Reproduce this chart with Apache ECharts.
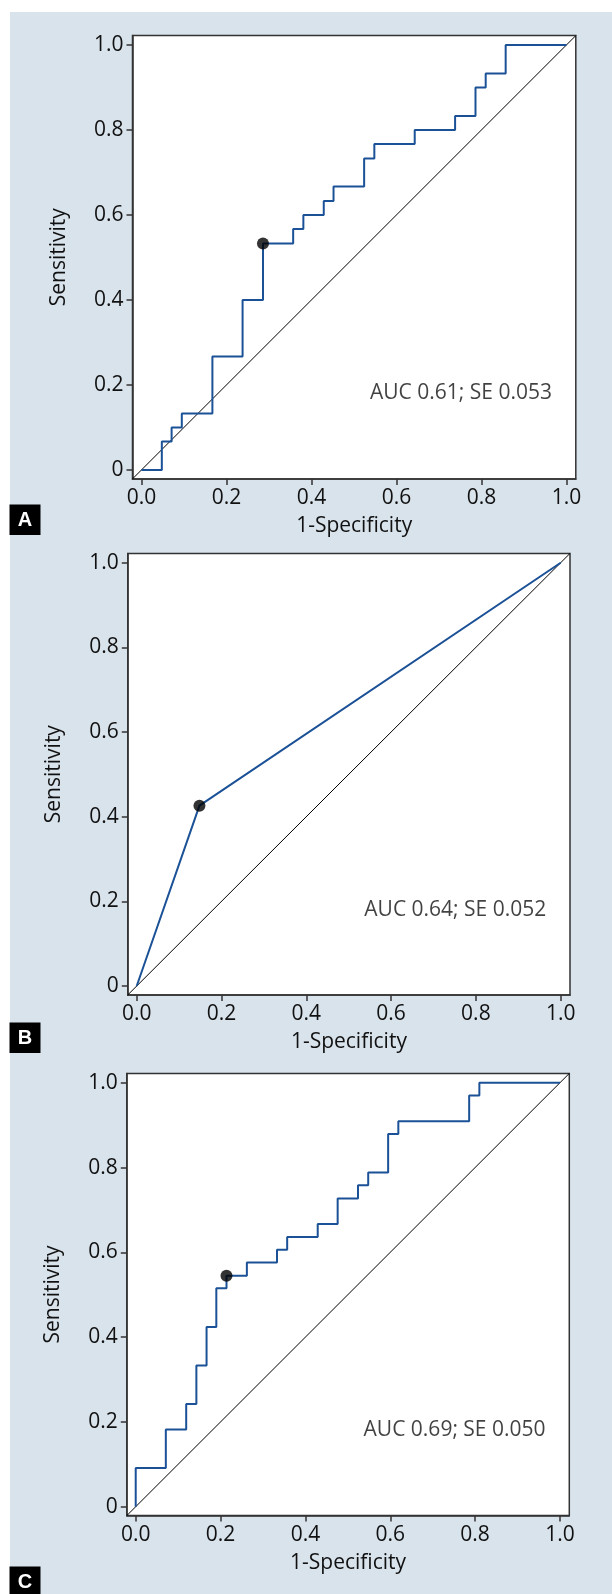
<!DOCTYPE html>
<html>
<head>
<meta charset="utf-8">
<style>
  html, body { margin: 0; padding: 0; background: #fff; }
  #chart { width: 612px; height: 1594px; }
</style>
<script src="https://cdn.jsdelivr.net/npm/echarts@6/dist/echarts.min.js"></script>
</head>
<body>
<div id="chart"></div>
<script>
// tick positions shared by both axes of every panel
const tickValues = [0, 0.2, 0.4, 0.6, 0.8, 1.0];
const axisRange = [-0.021, 1.022];

// panel A: stepped ROC curve
const fprA = [0, 0.048, 0.048, 0.071, 0.071, 0.095, 0.095, 0.167, 0.167, 0.238, 0.238, 0.286,
    0.286, 0.357, 0.357, 0.381, 0.381, 0.429, 0.429, 0.452, 0.452, 0.524, 0.524, 0.548,
    0.548, 0.643, 0.643, 0.738, 0.738, 0.786, 0.786, 0.810, 0.810, 0.857, 0.857, 1];
const tprA = [0, 0, 0.067, 0.067, 0.1, 0.1, 0.133, 0.133, 0.267, 0.267, 0.4, 0.4,
    0.533, 0.533, 0.567, 0.567, 0.6, 0.6, 0.633, 0.633, 0.667, 0.667, 0.733, 0.733,
    0.767, 0.767, 0.8, 0.8, 0.833, 0.833, 0.9, 0.9, 0.933, 0.933, 1, 1];
const cutA = [0.286, 0.533];

// panel B: single cut-off
const fprB = [0, 0.148, 1];
const tprB = [0, 0.426, 1];
const cutB = [0.148, 0.426];

// panel C: stepped ROC curve
const fprC = [0, 0, 0.071, 0.071, 0.119, 0.119, 0.143, 0.143, 0.167, 0.167, 0.190, 0.190,
    0.214, 0.214, 0.262, 0.262, 0.333, 0.333, 0.357, 0.357, 0.429, 0.429, 0.476, 0.476,
    0.524, 0.524, 0.548, 0.548, 0.595, 0.595, 0.619, 0.619, 0.786, 0.786, 0.810, 0.810, 1];
const tprC = [0, 0.091, 0.091, 0.182, 0.182, 0.242, 0.242, 0.333, 0.333, 0.424, 0.424, 0.515,
    0.515, 0.545, 0.545, 0.576, 0.576, 0.606, 0.606, 0.636, 0.636, 0.667, 0.667, 0.727,
    0.727, 0.758, 0.758, 0.788, 0.788, 0.879, 0.879, 0.909, 0.909, 0.970, 0.970, 1, 1];
const cutC = [0.214, 0.545];

const aucLabels = ['AUC 0.61; SE 0.053', 'AUC 0.64; SE 0.052', 'AUC 0.69; SE 0.050'];
const aucAnchor = [0.966, 0.18];
const panelLetters = ['A', 'B', 'C'];

const FONT = '"Open Sans", "Noto Sans", sans-serif';
const TEXT = '#111';
const BLUE = '#1b5196';

const panels = [
    { fpr: fprA, tpr: tprA, cut: cutA, grid: { left: 132.5, top: 35.6, width: 443.3, height: 443.3 }, letterTop: 504.5 },
    { fpr: fprB, tpr: tprB, cut: cutB, grid: { left: 127.8, top: 553.4, width: 442.2, height: 441.5 }, letterTop: 1022.5 },
    { fpr: fprC, tpr: tprC, cut: cutC, grid: { left: 126.8, top: 1073.4, width: 442.5, height: 442.2 }, letterTop: 1566.5 },
];

const chart = echarts.init(document.getElementById('chart'), null, { renderer: 'canvas' });

const grids = [];
const xAxes = [];
const yAxes = [];
const series = [];
const graphics = [
    { type: 'rect', shape: { x: 10, y: 12, width: 602, height: 1582 }, style: { fill: '#d9e3ec' }, z: -10 },
];

const baseAxis = (name, fmt) => ({
    type: 'value',
    min: axisRange[0],
    max: axisRange[1],
    name,
    nameLocation: 'middle',
    nameTextStyle: { fontFamily: FONT, fontSize: 21, color: TEXT },
    axisLine: { show: true, onZero: false, lineStyle: { color: '#333', width: 1.5 } },
    axisTick: { show: true, inside: false, length: 6, customValues: tickValues, lineStyle: { color: '#333', width: 1.5 } },
    axisLabel: { customValues: tickValues, margin: 9, fontFamily: FONT, fontSize: 21, color: TEXT, formatter: fmt },
    splitLine: { show: false },
});

panels.forEach((p, i) => {
    grids.push({
        ...p.grid,
        show: true,
        backgroundColor: '#fff',
        borderColor: '#333',
        borderWidth: 1.5,
    });
    xAxes.push({ ...baseAxis('1-Specificity', (v) => v.toFixed(1)), gridIndex: i, nameGap: 37 });
    yAxes.push({ ...baseAxis('Sensitivity', (v) => (v === 0 ? '0' : v.toFixed(1))), gridIndex: i, nameGap: 63 });

    series.push({
        type: 'line',
        xAxisIndex: i,
        yAxisIndex: i,
        data: [[axisRange[0], axisRange[0]], [axisRange[1], axisRange[1]]],
        symbol: 'none',
        lineStyle: { color: '#000', width: 1 },
        silent: true,
        z: 2,
    });
    series.push({
        type: 'line',
        xAxisIndex: i,
        yAxisIndex: i,
        data: p.fpr.map((x, k) => [x, p.tpr[k]]),
        symbol: 'none',
        lineStyle: { color: BLUE, width: 2 },
        silent: true,
        z: 3,
    });
    series.push({
        type: 'scatter',
        xAxisIndex: i,
        yAxisIndex: i,
        data: [p.cut],
        symbol: 'circle',
        symbolSize: 12,
        itemStyle: { color: '#000' },
        silent: true,
        z: 4,
    });
    series.push({
        type: 'scatter',
        xAxisIndex: i,
        yAxisIndex: i,
        data: [aucAnchor],
        symbolSize: 0,
        silent: true,
        label: {
            show: true,
            position: 'left',
            distance: 0,
            formatter: aucLabels[i],
            fontFamily: FONT,
            fontSize: 21,
            color: TEXT,
        },
        z: 5,
    });

    graphics.push({
        type: 'group',
        left: 9.5,
        top: p.letterTop,
        children: [
            { type: 'rect', shape: { x: 0, y: 0, width: 31, height: 30.5 }, style: { fill: '#000' } },
            {
                type: 'text',
                x: 15.5,
                y: 15.5,
                style: {
                    text: panelLetters[i],
                    fill: '#fff',
                    font: 'bold 20px "Liberation Sans", Arial, sans-serif',
                    align: 'center',
                    verticalAlign: 'middle',
                },
            },
        ],
    });
});

chart.setOption({
    animation: false,
    backgroundColor: '#fff',
    graphic: graphics,
    grid: grids,
    xAxis: xAxes,
    yAxis: yAxes,
    series,
});
</script>
</body>
</html>
